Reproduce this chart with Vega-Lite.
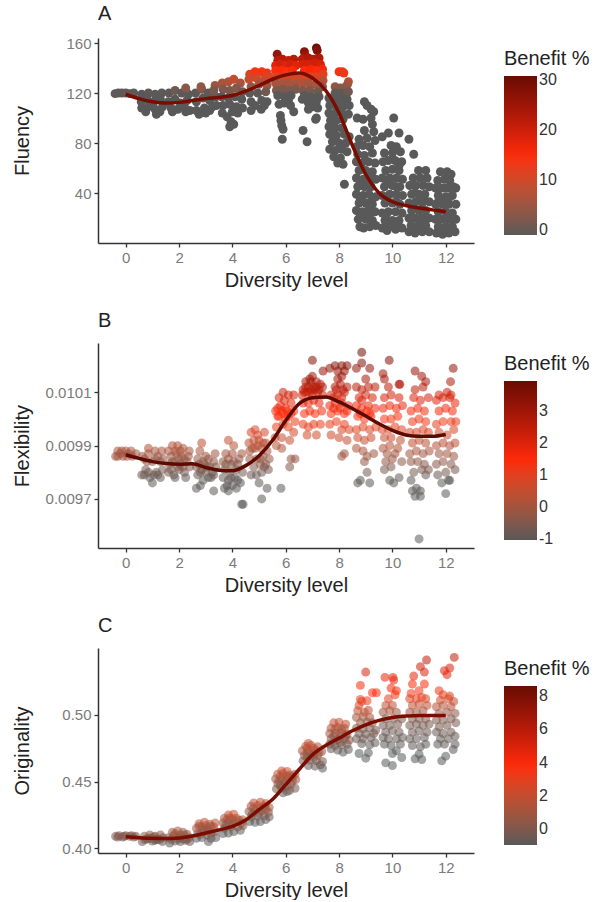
{"$schema":"https://vega.github.io/schema/vega-lite/v6.json","padding":{"left":12,"top":4,"right":0,"bottom":0},"background":"white","spacing":21,"datasets":{
"a":[{"x":-0.4,"y":119.5,"b":-0.4},{"x":-0.28,"y":120,"b":-0.4},{"x":-0.15,"y":120,"b":-0.4},{"x":0,"y":120,"b":-0.4},{"x":0.15,"y":119.5,"b":-0.4},{"x":0.3,"y":120,"b":-0.4},
{"x":0.6,"y":119,"b":-0.9},{"x":0.85,"y":120,"b":-0.5},{"x":1.1,"y":119,"b":-0.9},{"x":1.35,"y":120,"b":-0.5},{"x":0.58,"y":113,"b":-0.9},{"x":0.8,"y":115,"b":-0.9},{"x":1.05,"y":113,"b":-0.9},{"x":1.3,"y":115,"b":-0.9},{"x":0.6,"y":108,"b":-0.9},{"x":0.85,"y":109,"b":-0.9},{"x":1.1,"y":107,"b":-0.9},{"x":1.38,"y":109,"b":-0.9},{"x":0.75,"y":105,"b":-0.9},{"x":1.15,"y":103,"b":-0.9},{"x":1.28,"y":105,"b":-0.9},
{"x":1.62,"y":120,"b":-0.5},{"x":1.85,"y":122,"b":1},{"x":2.1,"y":120,"b":-0.5},{"x":2.35,"y":119,"b":-0.9},{"x":1.6,"y":113,"b":-0.9},{"x":1.85,"y":115,"b":-0.9},{"x":2.05,"y":112,"b":-0.9},{"x":2.3,"y":114,"b":-0.9},{"x":1.7,"y":108,"b":-0.9},{"x":1.95,"y":107,"b":-0.9},{"x":2.2,"y":109,"b":-0.9},{"x":2.4,"y":106,"b":-0.9},{"x":1.75,"y":105,"b":-0.9},{"x":2.25,"y":105,"b":-0.9},{"x":2.25,"y":124,"b":3},
{"x":2.62,"y":120,"b":-0.5},{"x":2.85,"y":123,"b":2},{"x":2.82,"y":125,"b":4},{"x":3.1,"y":120,"b":-0.5},{"x":3.35,"y":126,"b":5},{"x":2.65,"y":113,"b":-0.9},{"x":2.9,"y":116,"b":-0.9},{"x":3.15,"y":114,"b":-0.9},{"x":3.38,"y":117,"b":-0.9},{"x":2.65,"y":106,"b":-0.9},{"x":2.75,"y":103,"b":-0.9},{"x":2.95,"y":108,"b":-0.9},{"x":3.0,"y":104,"b":-0.9},{"x":3.25,"y":109,"b":-0.9},{"x":3.15,"y":106,"b":-0.9},{"x":3.4,"y":110,"b":-0.9},{"x":3.3,"y":122,"b":1.5},
{"x":3.62,"y":128,"b":6},{"x":3.85,"y":129,"b":7},{"x":4.05,"y":131,"b":9},{"x":4.3,"y":128,"b":6},{"x":3.65,"y":123,"b":2},{"x":3.9,"y":122,"b":2},{"x":4.15,"y":124,"b":3},{"x":4.38,"y":121,"b":1},{"x":3.6,"y":117,"b":-0.9},{"x":3.85,"y":116,"b":-0.9},{"x":4.1,"y":117,"b":-0.9},{"x":4.35,"y":115,"b":-0.9},{"x":3.65,"y":110,"b":-0.9},{"x":3.9,"y":111,"b":-0.9},{"x":4.15,"y":109,"b":-0.9},{"x":4.38,"y":108,"b":-0.9},{"x":3.62,"y":104,"b":-0.9},{"x":3.8,"y":101,"b":-0.9},{"x":4.0,"y":105,"b":-0.9},{"x":4.2,"y":104,"b":-0.9},{"x":3.95,"y":97,"b":-0.9},{"x":4.05,"y":95,"b":-0.9},{"x":3.9,"y":93,"b":-0.9},
{"x":4.65,"y":135,"b":12},{"x":4.85,"y":137,"b":14},{"x":5.1,"y":137,"b":14},{"x":5.3,"y":136,"b":13},{"x":4.62,"y":131,"b":9},{"x":4.9,"y":132,"b":10},{"x":5.2,"y":131,"b":9},{"x":5.38,"y":133,"b":11},{"x":4.7,"y":125,"b":4},{"x":5.0,"y":127,"b":6},{"x":5.3,"y":126,"b":5},{"x":4.65,"y":120,"b":-0.5},{"x":4.95,"y":120,"b":-0.5},{"x":5.25,"y":121,"b":1},{"x":4.7,"y":113,"b":-0.9},{"x":4.85,"y":110,"b":-0.9},{"x":5.1,"y":114,"b":-0.9},{"x":5.3,"y":113,"b":-0.9},{"x":4.7,"y":106,"b":-0.9},{"x":5.08,"y":107,"b":-0.9},{"x":5.2,"y":110,"b":-0.9},
{"x":5.68,"y":151,"b":26},{"x":5.7,"y":146,"b":22},{"x":5.88,"y":147,"b":22},{"x":6.1,"y":146,"b":21},{"x":6.3,"y":147,"b":22},{"x":5.62,"y":142,"b":18},{"x":5.8,"y":143,"b":19},{"x":6.0,"y":142,"b":18},{"x":6.2,"y":143,"b":19},{"x":6.38,"y":142,"b":18},{"x":5.62,"y":138,"b":15},{"x":5.85,"y":138,"b":15},{"x":6.05,"y":137,"b":14},{"x":6.25,"y":138,"b":15},{"x":5.65,"y":133,"b":11},{"x":5.9,"y":132,"b":10},{"x":6.15,"y":133,"b":11},{"x":6.38,"y":132,"b":10},{"x":5.62,"y":128,"b":6},{"x":5.85,"y":127,"b":6},{"x":6.1,"y":128,"b":6},{"x":6.35,"y":127,"b":6},{"x":5.65,"y":122,"b":2},{"x":5.9,"y":123,"b":2},{"x":6.15,"y":122,"b":2},{"x":6.38,"y":123,"b":2},{"x":5.7,"y":118,"b":-0.9},{"x":5.95,"y":117,"b":-0.9},{"x":6.2,"y":118,"b":-0.9},{"x":5.95,"y":112,"b":-0.9},{"x":6.1,"y":114,"b":-0.9},{"x":6.18,"y":110,"b":-0.9},{"x":6.3,"y":105,"b":-0.9},{"x":5.75,"y":111,"b":-0.9},{"x":5.8,"y":102,"b":-0.9},{"x":5.82,"y":98,"b":-0.9},{"x":5.85,"y":94,"b":-0.9},{"x":5.9,"y":91,"b":-0.9},{"x":5.87,"y":83,"b":-0.9},
{"x":7.15,"y":156,"b":30},{"x":7.18,"y":154,"b":28},{"x":6.7,"y":153,"b":27},{"x":6.72,"y":150,"b":25},{"x":6.62,"y":147,"b":22},{"x":6.85,"y":148,"b":23},{"x":7.05,"y":147,"b":22},{"x":7.25,"y":148,"b":23},{"x":6.65,"y":143,"b":19},{"x":6.85,"y":143,"b":19},{"x":7.1,"y":144,"b":20},{"x":7.3,"y":143,"b":19},{"x":7.38,"y":139,"b":16},{"x":6.7,"y":138,"b":15},{"x":6.95,"y":139,"b":16},{"x":7.15,"y":138,"b":15},{"x":7.4,"y":135,"b":12},{"x":6.65,"y":133,"b":11},{"x":6.9,"y":133,"b":11},{"x":7.15,"y":133,"b":11},{"x":7.4,"y":130,"b":8},{"x":6.62,"y":128,"b":7},{"x":6.85,"y":128,"b":6},{"x":7.1,"y":127,"b":6},{"x":7.38,"y":125,"b":4},{"x":6.65,"y":122,"b":2},{"x":6.9,"y":122,"b":2},{"x":7.2,"y":121,"b":1},{"x":6.7,"y":118,"b":-0.9},{"x":6.95,"y":117,"b":-0.9},{"x":7.25,"y":117,"b":-0.9},{"x":6.62,"y":115,"b":-0.9},{"x":6.85,"y":112,"b":-0.9},{"x":7.15,"y":113,"b":-0.9},{"x":7.0,"y":109,"b":-0.9},{"x":7.2,"y":108,"b":-0.9},{"x":6.85,"y":107,"b":-0.9},{"x":7.15,"y":100,"b":-0.9},{"x":7.12,"y":99,"b":-0.9},{"x":6.65,"y":90,"b":-0.9},{"x":6.8,"y":81,"b":-0.9},
{"x":8.0,"y":137,"b":14},{"x":8.12,"y":137,"b":14},{"x":8.18,"y":136,"b":13},{"x":8.35,"y":129,"b":8},{"x":8.32,"y":127,"b":6},{"x":7.85,"y":125,"b":4},{"x":8.05,"y":124,"b":3},{"x":8.25,"y":125,"b":4},{"x":7.85,"y":120,"b":-0.5},{"x":8.1,"y":120,"b":-0.5},{"x":8.35,"y":121,"b":1},{"x":7.62,"y":116,"b":-0.9},{"x":7.85,"y":115,"b":-0.9},{"x":8.1,"y":115,"b":-0.9},{"x":8.3,"y":115,"b":-0.9},{"x":7.65,"y":110,"b":-0.9},{"x":7.9,"y":110,"b":-0.9},{"x":8.15,"y":109,"b":-0.9},{"x":8.38,"y":110,"b":-0.9},{"x":7.62,"y":104,"b":-0.9},{"x":7.85,"y":104,"b":-0.9},{"x":8.1,"y":104,"b":-0.9},{"x":8.35,"y":103,"b":-0.9},{"x":7.68,"y":98,"b":-0.9},{"x":7.9,"y":98,"b":-0.9},{"x":8.15,"y":99,"b":-0.9},{"x":7.62,"y":93,"b":-0.9},{"x":7.85,"y":92,"b":-0.9},{"x":8.1,"y":92,"b":-0.9},{"x":7.65,"y":87,"b":-0.9},{"x":7.9,"y":86,"b":-0.9},{"x":8.2,"y":87,"b":-0.9},{"x":8.38,"y":85,"b":-0.9},{"x":7.75,"y":81,"b":-0.9},{"x":8.0,"y":80,"b":-0.9},{"x":8.25,"y":80,"b":-0.9},{"x":7.65,"y":75,"b":-0.9},{"x":7.85,"y":74,"b":-0.9},{"x":8.1,"y":75,"b":-0.9},{"x":8.3,"y":73,"b":-0.9},{"x":7.8,"y":69,"b":-0.9},{"x":8.05,"y":68,"b":-0.9},{"x":7.95,"y":64,"b":-0.9},{"x":8.15,"y":63,"b":-0.9},{"x":8.2,"y":47,"b":-0.9},
{"x":8.95,"y":113,"b":-0.9},{"x":9.05,"y":110,"b":-0.9},{"x":9.3,"y":105,"b":-0.9},{"x":9.2,"y":107,"b":-0.9},{"x":8.68,"y":100,"b":-0.9},{"x":8.9,"y":99,"b":-0.9},{"x":9.2,"y":100,"b":-0.9},{"x":9.25,"y":95,"b":-0.9},{"x":8.95,"y":90,"b":-0.9},{"x":9.3,"y":89,"b":-0.9},{"x":8.75,"y":83,"b":-0.9},{"x":9.05,"y":84,"b":-0.9},{"x":9.35,"y":82,"b":-0.9},{"x":8.65,"y":77,"b":-0.9},{"x":8.9,"y":78,"b":-0.9},{"x":9.15,"y":77,"b":-0.9},{"x":8.7,"y":71,"b":-0.9},{"x":8.95,"y":70,"b":-0.9},{"x":9.25,"y":72,"b":-0.9},{"x":8.65,"y":65,"b":-0.9},{"x":8.85,"y":64,"b":-0.9},{"x":9.1,"y":65,"b":-0.9},{"x":9.35,"y":64,"b":-0.9},{"x":8.75,"y":58,"b":-0.9},{"x":9.0,"y":58,"b":-0.9},{"x":9.25,"y":57,"b":-0.9},{"x":8.65,"y":52,"b":-0.9},{"x":8.9,"y":51,"b":-0.9},{"x":9.15,"y":52,"b":-0.9},{"x":9.38,"y":51,"b":-0.9},{"x":8.7,"y":45,"b":-0.9},{"x":8.95,"y":45,"b":-0.9},{"x":9.2,"y":45,"b":-0.9},{"x":8.65,"y":39,"b":-0.9},{"x":8.9,"y":38,"b":-0.9},{"x":9.12,"y":39,"b":-0.9},{"x":9.38,"y":37,"b":-0.9},{"x":8.75,"y":32,"b":-0.9},{"x":9.0,"y":32,"b":-0.9},{"x":9.25,"y":31,"b":-0.9},{"x":8.65,"y":26,"b":-0.9},{"x":8.88,"y":25,"b":-0.9},{"x":9.1,"y":26,"b":-0.9},{"x":9.35,"y":25,"b":-0.9},{"x":8.72,"y":19,"b":-0.9},{"x":9.0,"y":19,"b":-0.9},{"x":9.25,"y":18,"b":-0.9},{"x":8.78,"y":13,"b":-0.9},{"x":8.92,"y":12,"b":-0.9},{"x":9.15,"y":13,"b":-0.9},{"x":9.38,"y":14,"b":-0.9},
{"x":10.05,"y":100,"b":-0.9},{"x":10.25,"y":88,"b":-0.9},{"x":9.85,"y":88,"b":-0.9},{"x":9.62,"y":85,"b":-0.9},{"x":10.62,"y":83,"b":-0.9},{"x":10.8,"y":71,"b":-0.9},{"x":9.95,"y":78,"b":-0.9},{"x":10.15,"y":77,"b":-0.9},{"x":10.3,"y":73,"b":-0.9},{"x":9.7,"y":72,"b":-0.9},{"x":10.0,"y":72,"b":-0.9},{"x":9.65,"y":65,"b":-0.9},{"x":9.85,"y":66,"b":-0.9},{"x":10.1,"y":66,"b":-0.9},{"x":10.35,"y":65,"b":-0.9},{"x":9.75,"y":58,"b":-0.9},{"x":10.0,"y":59,"b":-0.9},{"x":10.25,"y":58,"b":-0.9},{"x":9.62,"y":52,"b":-0.9},{"x":9.9,"y":52,"b":-0.9},{"x":10.15,"y":52,"b":-0.9},{"x":10.38,"y":51,"b":-0.9},{"x":10.0,"y":46,"b":-0.9},{"x":10.28,"y":45,"b":-0.9},{"x":9.7,"y":45,"b":-0.9},{"x":9.62,"y":38,"b":-0.9},{"x":9.9,"y":39,"b":-0.9},{"x":10.15,"y":39,"b":-0.9},{"x":10.38,"y":38,"b":-0.9},{"x":9.72,"y":32,"b":-0.9},{"x":10.0,"y":32,"b":-0.9},{"x":10.28,"y":31,"b":-0.9},{"x":9.62,"y":24,"b":-0.9},{"x":9.85,"y":25,"b":-0.9},{"x":10.12,"y":25,"b":-0.9},{"x":10.36,"y":24,"b":-0.9},{"x":9.72,"y":18,"b":-0.9},{"x":10.0,"y":18,"b":-0.9},{"x":10.25,"y":18,"b":-0.9},{"x":9.62,"y":12,"b":-0.9},{"x":9.88,"y":13,"b":-0.9},{"x":10.12,"y":11,"b":-0.9},{"x":10.36,"y":12,"b":-0.9},
{"x":10.98,"y":58,"b":-0.9},{"x":11.25,"y":58,"b":-0.9},{"x":10.78,"y":52,"b":-0.9},{"x":11.05,"y":52,"b":-0.9},{"x":11.3,"y":52,"b":-0.9},{"x":10.65,"y":46,"b":-0.9},{"x":10.88,"y":46,"b":-0.9},{"x":11.15,"y":46,"b":-0.9},{"x":11.38,"y":45,"b":-0.9},{"x":10.72,"y":39,"b":-0.9},{"x":11.0,"y":39,"b":-0.9},{"x":11.22,"y":39,"b":-0.9},{"x":10.62,"y":32,"b":-0.9},{"x":10.88,"y":33,"b":-0.9},{"x":11.12,"y":32,"b":-0.9},{"x":11.38,"y":33,"b":-0.9},{"x":10.72,"y":26,"b":-0.9},{"x":11.0,"y":26,"b":-0.9},{"x":11.25,"y":26,"b":-0.9},{"x":10.62,"y":20,"b":-0.9},{"x":10.85,"y":20,"b":-0.9},{"x":11.1,"y":20,"b":-0.9},{"x":11.38,"y":20,"b":-0.9},{"x":10.7,"y":14,"b":-0.9},{"x":10.98,"y":14,"b":-0.9},{"x":11.25,"y":14,"b":-0.9},{"x":10.62,"y":9,"b":-0.9},{"x":10.85,"y":8,"b":-0.9},{"x":11.12,"y":9,"b":-0.9},{"x":11.38,"y":9,"b":-0.9},
{"x":11.8,"y":57,"b":-0.9},{"x":12.05,"y":57,"b":-0.9},{"x":12.2,"y":55,"b":-0.9},{"x":11.7,"y":50,"b":-0.9},{"x":11.95,"y":51,"b":-0.9},{"x":12.15,"y":50,"b":-0.9},{"x":11.62,"y":44,"b":-0.9},{"x":11.85,"y":44,"b":-0.9},{"x":12.1,"y":44,"b":-0.9},{"x":12.38,"y":44,"b":-0.9},{"x":11.72,"y":38,"b":-0.9},{"x":12.0,"y":37,"b":-0.9},{"x":12.25,"y":38,"b":-0.9},{"x":11.62,"y":31,"b":-0.9},{"x":11.88,"y":31,"b":-0.9},{"x":12.12,"y":31,"b":-0.9},{"x":12.38,"y":31,"b":-0.9},{"x":11.72,"y":25,"b":-0.9},{"x":12.0,"y":25,"b":-0.9},{"x":12.25,"y":24,"b":-0.9},{"x":11.62,"y":19,"b":-0.9},{"x":11.85,"y":19,"b":-0.9},{"x":12.1,"y":19,"b":-0.9},{"x":12.38,"y":19,"b":-0.9},{"x":11.72,"y":13,"b":-0.9},{"x":12.0,"y":13,"b":-0.9},{"x":12.25,"y":13,"b":-0.9},{"x":11.65,"y":8,"b":-0.9},{"x":11.88,"y":7,"b":-0.9},{"x":12.12,"y":8,"b":-0.9},{"x":12.35,"y":9,"b":-0.9},
{"x":8.8,"y":22,"b":-0.9},{"x":9.12,"y":22,"b":-0.9},{"x":8.8,"y":35,"b":-0.9},{"x":9.25,"y":35,"b":-0.9},{"x":8.8,"y":48,"b":-0.9},{"x":9.05,"y":48,"b":-0.9},{"x":9.8,"y":48,"b":-0.9},{"x":10.15,"y":45,"b":-0.9},{"x":9.78,"y":35,"b":-0.9},{"x":10.15,"y":33,"b":-0.9},{"x":9.75,"y":22,"b":-0.9},{"x":10.12,"y":15,"b":-0.9},{"x":9.8,"y":10,"b":-0.9},{"x":10.25,"y":62,"b":-0.9},{"x":10.85,"y":40,"b":-0.9},{"x":11.15,"y":36,"b":-0.9},{"x":10.75,"y":30,"b":-0.9},{"x":11.0,"y":18,"b":-0.9},{"x":11.25,"y":20,"b":-0.9},{"x":10.8,"y":12,"b":-0.9},{"x":11.75,"y":35,"b":-0.9},{"x":12.12,"y":36,"b":-0.9},{"x":11.75,"y":19,"b":-0.9},{"x":12.22,"y":19,"b":-0.9},{"x":11.85,"y":10,"b":-0.9},{"x":12.28,"y":45,"b":-0.9},{"x":11.98,"y":44,"b":-0.9}],
"al":[{"x":0,"y":119},{"x":0.5,"y":115.5},{"x":1,"y":113},{"x":1.5,"y":112},{"x":2,"y":112.5},{"x":2.5,"y":114},{"x":3,"y":115.5},{"x":3.5,"y":116.5},{"x":4,"y":118},{"x":4.5,"y":121.5},{"x":5,"y":126},{"x":5.5,"y":131},{"x":6,"y":134.5},{"x":6.5,"y":136},{"x":7,"y":132},{"x":7.5,"y":122},{"x":8,"y":104},{"x":8.5,"y":78},{"x":9,"y":55},{"x":9.5,"y":40},{"x":10,"y":33},{"x":10.5,"y":30},{"x":11,"y":28},{"x":11.5,"y":26.5},{"x":12,"y":25}],
"b":[{"x":-0.38,"y":0.00986,"b":0},{"x":-0.3,"y":0.00988,"b":0.1},{"x":-0.2,"y":0.00987,"b":0},{"x":-0.1,"y":0.00986,"b":0},{"x":0,"y":0.00988,"b":0.1},{"x":0.1,"y":0.00987,"b":0},{"x":0.25,"y":0.00986,"b":0},{"x":0.38,"y":0.00987,"b":0},{"x":-0.3,"y":0.00986,"b":0},{"x":-0.15,"y":0.00988,"b":0.1},{"x":0.05,"y":0.00986,"b":0},{"x":0.2,"y":0.00988,"b":0.1},
{"x":0.6,"y":0.00979,"b":-0.8},{"x":0.75,"y":0.00981,"b":-0.6},{"x":0.9,"y":0.00978,"b":-0.9},{"x":1.0,"y":0.00976,"b":-1},{"x":1.15,"y":0.0098,"b":-0.7},{"x":1.3,"y":0.00978,"b":-0.9},{"x":1.38,"y":0.00981,"b":-0.6},{"x":0.7,"y":0.00985,"b":-0.2},{"x":0.85,"y":0.00987,"b":0},{"x":1.0,"y":0.00984,"b":-0.3},{"x":1.2,"y":0.00986,"b":-0.1},{"x":1.35,"y":0.00988,"b":0.1},{"x":0.85,"y":0.00989,"b":0.2},{"x":1.1,"y":0.00988,"b":0.1},{"x":1.4,"y":0.00985,"b":-0.2},{"x":0.62,"y":0.00986,"b":-0.1},{"x":0.7,"y":0.00979,"b":-0.8},{"x":0.85,"y":0.0098,"b":-0.7},{"x":1.05,"y":0.00979,"b":-0.8},{"x":1.2,"y":0.00979,"b":-0.8},{"x":0.8,"y":0.00984,"b":-0.3},{"x":1.1,"y":0.00985,"b":-0.2},{"x":1.3,"y":0.00984,"b":-0.3},
{"x":1.6,"y":0.0098,"b":-0.7},{"x":1.8,"y":0.00979,"b":-0.8},{"x":2.0,"y":0.00981,"b":-0.6},{"x":2.2,"y":0.0098,"b":-0.7},{"x":2.4,"y":0.00982,"b":-0.5},{"x":1.65,"y":0.00983,"b":-0.4},{"x":1.85,"y":0.00984,"b":-0.3},{"x":2.05,"y":0.00983,"b":-0.4},{"x":2.3,"y":0.00984,"b":-0.3},{"x":1.7,"y":0.00986,"b":-0.1},{"x":1.9,"y":0.00987,"b":0},{"x":2.1,"y":0.00986,"b":-0.1},{"x":2.35,"y":0.00986,"b":-0.1},{"x":1.6,"y":0.00988,"b":0.1},{"x":1.75,"y":0.0099,"b":0.3},{"x":1.95,"y":0.0099,"b":0.3},{"x":2.15,"y":0.00989,"b":0.2},{"x":2.38,"y":0.00988,"b":0.1},{"x":1.85,"y":0.00978,"b":-0.9},{"x":2.25,"y":0.00978,"b":-0.9},{"x":1.7,"y":0.00981,"b":-0.6},{"x":1.95,"y":0.00982,"b":-0.5},{"x":2.15,"y":0.00982,"b":-0.5},{"x":1.75,"y":0.00984,"b":-0.3},{"x":2.0,"y":0.00985,"b":-0.2},{"x":2.2,"y":0.00985,"b":-0.2},{"x":1.85,"y":0.00988,"b":0.1},{"x":2.05,"y":0.00988,"b":0.1},
{"x":2.65,"y":0.00974,"b":-1},{"x":2.8,"y":0.00975,"b":-1},{"x":3.3,"y":0.00973,"b":-1},{"x":2.7,"y":0.00979,"b":-0.8},{"x":2.9,"y":0.00977,"b":-1},{"x":3.1,"y":0.00978,"b":-0.9},{"x":3.3,"y":0.00979,"b":-0.8},{"x":2.65,"y":0.00982,"b":-0.5},{"x":2.85,"y":0.00981,"b":-0.6},{"x":3.05,"y":0.00982,"b":-0.5},{"x":3.25,"y":0.0098,"b":-0.7},{"x":3.38,"y":0.00982,"b":-0.5},{"x":2.7,"y":0.00985,"b":-0.2},{"x":2.9,"y":0.00984,"b":-0.3},{"x":3.1,"y":0.00985,"b":-0.2},{"x":3.3,"y":0.00984,"b":-0.3},{"x":2.78,"y":0.00988,"b":0.1},{"x":3.0,"y":0.00986,"b":-0.1},{"x":2.85,"y":0.00991,"b":0.4},{"x":3.35,"y":0.00987,"b":0},{"x":2.75,"y":0.00983,"b":-0.4},{"x":2.95,"y":0.00983,"b":-0.4},{"x":3.15,"y":0.00982,"b":-0.5},{"x":2.8,"y":0.0098,"b":-0.7},{"x":3.0,"y":0.0098,"b":-0.7},{"x":3.2,"y":0.00978,"b":-0.9},
{"x":3.7,"y":0.00974,"b":-1},{"x":3.85,"y":0.00973,"b":-1},{"x":4.0,"y":0.00975,"b":-1},{"x":4.15,"y":0.00974,"b":-1},{"x":4.4,"y":0.00968,"b":-1},{"x":4.35,"y":0.00968,"b":-1},{"x":3.65,"y":0.00978,"b":-0.9},{"x":3.85,"y":0.00977,"b":-1},{"x":4.1,"y":0.00978,"b":-0.9},{"x":4.3,"y":0.00976,"b":-1},{"x":3.7,"y":0.00981,"b":-0.6},{"x":3.9,"y":0.0098,"b":-0.7},{"x":4.15,"y":0.00981,"b":-0.6},{"x":4.38,"y":0.0098,"b":-0.7},{"x":3.65,"y":0.00984,"b":-0.3},{"x":3.85,"y":0.00985,"b":-0.2},{"x":4.05,"y":0.00984,"b":-0.3},{"x":4.25,"y":0.00985,"b":-0.2},{"x":3.75,"y":0.00987,"b":0},{"x":4.0,"y":0.00987,"b":0},{"x":4.35,"y":0.00987,"b":0},{"x":3.85,"y":0.00992,"b":0.5},{"x":4.05,"y":0.0099,"b":0.3},{"x":3.75,"y":0.00983,"b":-0.4},{"x":3.95,"y":0.00983,"b":-0.4},{"x":4.2,"y":0.00983,"b":-0.4},{"x":3.8,"y":0.00975,"b":-1},{"x":3.95,"y":0.00978,"b":-0.9},{"x":4.2,"y":0.00977,"b":-1},
{"x":5.1,"y":0.0097,"b":-1},{"x":5.3,"y":0.00974,"b":-1},{"x":5.0,"y":0.00976,"b":-1},{"x":4.7,"y":0.00979,"b":-0.8},{"x":4.9,"y":0.00979,"b":-0.8},{"x":5.1,"y":0.0098,"b":-0.7},{"x":5.35,"y":0.00981,"b":-0.6},{"x":4.8,"y":0.00982,"b":-0.5},{"x":5.05,"y":0.00983,"b":-0.4},{"x":5.25,"y":0.00983,"b":-0.4},{"x":4.65,"y":0.00985,"b":-0.2},{"x":4.9,"y":0.00985,"b":-0.2},{"x":5.15,"y":0.00986,"b":-0.1},{"x":5.38,"y":0.00985,"b":-0.2},{"x":4.65,"y":0.00988,"b":0.1},{"x":4.85,"y":0.00989,"b":0.2},{"x":5.1,"y":0.00989,"b":0.2},{"x":5.3,"y":0.00988,"b":0.1},{"x":4.62,"y":0.00991,"b":0.4},{"x":4.8,"y":0.00992,"b":0.5},{"x":5.0,"y":0.00992,"b":0.5},{"x":5.25,"y":0.00991,"b":0.4},{"x":4.7,"y":0.00995,"b":0.8},{"x":4.95,"y":0.00994,"b":0.7},{"x":4.85,"y":0.00996,"b":0.9},{"x":5.2,"y":0.00995,"b":0.8},{"x":4.75,"y":0.00989,"b":0.2},{"x":4.95,"y":0.0099,"b":0.3},{"x":5.15,"y":0.00991,"b":0.4},{"x":5.05,"y":0.00985,"b":-0.2},{"x":5.2,"y":0.00982,"b":-0.5},
{"x":5.82,"y":0.00974,"b":-1},{"x":6.15,"y":0.00982,"b":-0.5},{"x":6.2,"y":0.00985,"b":-0.2},{"x":6.35,"y":0.00985,"b":-0.2},{"x":5.65,"y":0.0099,"b":0.3},{"x":5.85,"y":0.00989,"b":0.2},{"x":5.6,"y":0.00993,"b":0.6},{"x":5.85,"y":0.00993,"b":0.6},{"x":6.15,"y":0.00992,"b":0.5},{"x":6.3,"y":0.00995,"b":0.8},{"x":5.65,"y":0.00997,"b":1},{"x":5.9,"y":0.00998,"b":1.1},{"x":6.1,"y":0.00997,"b":1},{"x":6.35,"y":0.00999,"b":1.2},{"x":5.7,"y":0.01001,"b":1.4},{"x":5.9,"y":0.01002,"b":1.5},{"x":6.1,"y":0.01001,"b":1.4},{"x":6.3,"y":0.01003,"b":1.6},{"x":5.62,"y":0.01003,"b":1.6},{"x":5.8,"y":0.01005,"b":1.8},{"x":6.0,"y":0.01004,"b":1.7},{"x":6.2,"y":0.01006,"b":1.9},{"x":5.95,"y":0.01007,"b":2},{"x":5.75,"y":0.01008,"b":2.1},{"x":6.1,"y":0.01009,"b":2.2},{"x":6.3,"y":0.01009,"b":2.2},{"x":5.9,"y":0.0101,"b":2.3},{"x":5.7,"y":0.01004,"b":1.7},{"x":5.85,"y":0.01003,"b":1.6},{"x":6.05,"y":0.01003,"b":1.6},{"x":5.75,"y":0.01001,"b":1.4},{"x":6.0,"y":0.01,"b":1.3},{"x":6.2,"y":0.01002,"b":1.5},
{"x":7.0,"y":0.01022,"b":3.6},{"x":6.8,"y":0.00994,"b":0.7},{"x":7.15,"y":0.00994,"b":0.7},{"x":6.65,"y":0.00998,"b":1.1},{"x":6.85,"y":0.00997,"b":1},{"x":7.05,"y":0.00998,"b":1.1},{"x":7.3,"y":0.00998,"b":1.1},{"x":6.7,"y":0.01002,"b":1.5},{"x":6.9,"y":0.01003,"b":1.6},{"x":7.1,"y":0.01002,"b":1.5},{"x":7.35,"y":0.01003,"b":1.6},{"x":6.65,"y":0.01006,"b":1.9},{"x":6.85,"y":0.01006,"b":1.9},{"x":7.05,"y":0.01007,"b":2},{"x":7.25,"y":0.01006,"b":1.9},{"x":6.62,"y":0.01009,"b":2.2},{"x":6.8,"y":0.0101,"b":2.3},{"x":7.0,"y":0.01009,"b":2.2},{"x":7.2,"y":0.0101,"b":2.3},{"x":7.38,"y":0.01009,"b":2.2},{"x":6.65,"y":0.01011,"b":2.5},{"x":6.85,"y":0.01012,"b":2.6},{"x":7.05,"y":0.01012,"b":2.6},{"x":7.25,"y":0.01011,"b":2.5},{"x":7.38,"y":0.01012,"b":2.6},{"x":6.75,"y":0.01014,"b":2.8},{"x":6.95,"y":0.01014,"b":2.8},{"x":7.15,"y":0.01014,"b":2.8},{"x":6.9,"y":0.01015,"b":2.9},{"x":7.0,"y":0.01016,"b":3},{"x":7.4,"y":0.01018,"b":3.2},{"x":6.7,"y":0.0101,"b":2.3},{"x":6.9,"y":0.0101,"b":2.3},{"x":7.1,"y":0.01011,"b":2.5},{"x":6.75,"y":0.01012,"b":2.6},{"x":6.95,"y":0.01011,"b":2.5},{"x":7.15,"y":0.01012,"b":2.6},{"x":7.3,"y":0.01013,"b":2.7},
{"x":8.2,"y":0.00987,"b":0},{"x":8.1,"y":0.00986,"b":-0.1},{"x":7.7,"y":0.00994,"b":0.7},{"x":8.0,"y":0.00993,"b":0.6},{"x":8.3,"y":0.00992,"b":0.5},{"x":8.1,"y":0.00996,"b":0.9},{"x":7.65,"y":0.00998,"b":1.1},{"x":7.9,"y":0.00999,"b":1.2},{"x":8.2,"y":0.00998,"b":1.1},{"x":8.38,"y":0.00996,"b":0.9},{"x":7.7,"y":0.01002,"b":1.5},{"x":7.95,"y":0.01003,"b":1.6},{"x":8.2,"y":0.01002,"b":1.5},{"x":7.65,"y":0.01005,"b":1.8},{"x":7.85,"y":0.01006,"b":1.9},{"x":8.1,"y":0.01006,"b":1.9},{"x":8.35,"y":0.01005,"b":1.8},{"x":7.7,"y":0.01009,"b":2.2},{"x":7.95,"y":0.01009,"b":2.2},{"x":8.2,"y":0.0101,"b":2.3},{"x":7.85,"y":0.01012,"b":2.6},{"x":8.05,"y":0.01013,"b":2.7},{"x":8.3,"y":0.01012,"b":2.6},{"x":7.95,"y":0.01015,"b":2.9},{"x":8.1,"y":0.01016,"b":3},{"x":7.95,"y":0.01018,"b":3.2},{"x":8.2,"y":0.01018,"b":3.2},{"x":7.65,"y":0.01019,"b":3.3},{"x":7.85,"y":0.0102,"b":3.4},{"x":8.3,"y":0.0102,"b":3.4},{"x":8.1,"y":0.0102,"b":3.4},{"x":7.8,"y":0.01004,"b":1.7},{"x":8.05,"y":0.01004,"b":1.7},{"x":8.3,"y":0.01003,"b":1.6},{"x":7.8,"y":0.01008,"b":2.1},{"x":8.1,"y":0.01008,"b":2.1},{"x":7.9,"y":0.01011,"b":2.5},{"x":8.15,"y":0.01011,"b":2.5},
{"x":8.7,"y":0.00976,"b":-1},{"x":8.8,"y":0.00977,"b":-1},{"x":9.15,"y":0.00976,"b":-1},{"x":9.05,"y":0.0098,"b":-0.7},{"x":8.95,"y":0.00984,"b":-0.3},{"x":9.05,"y":0.00986,"b":-0.1},{"x":8.65,"y":0.00989,"b":0.2},{"x":8.9,"y":0.00988,"b":0.1},{"x":9.3,"y":0.00987,"b":0},{"x":8.7,"y":0.00993,"b":0.6},{"x":8.95,"y":0.00992,"b":0.5},{"x":9.2,"y":0.00993,"b":0.6},{"x":8.65,"y":0.00996,"b":0.9},{"x":8.9,"y":0.00997,"b":1},{"x":9.15,"y":0.00996,"b":0.9},{"x":9.38,"y":0.00997,"b":1},{"x":8.7,"y":0.01001,"b":1.4},{"x":8.95,"y":0.01,"b":1.3},{"x":9.2,"y":0.01001,"b":1.4},{"x":8.65,"y":0.01005,"b":1.8},{"x":8.85,"y":0.01004,"b":1.7},{"x":9.1,"y":0.01005,"b":1.8},{"x":9.35,"y":0.01004,"b":1.7},{"x":8.75,"y":0.01008,"b":2.1},{"x":9.0,"y":0.01009,"b":2.2},{"x":9.25,"y":0.01008,"b":2.1},{"x":8.65,"y":0.01012,"b":2.6},{"x":8.85,"y":0.01011,"b":2.5},{"x":9.1,"y":0.01012,"b":2.6},{"x":9.35,"y":0.01012,"b":2.6},{"x":9.0,"y":0.01015,"b":2.9},{"x":8.65,"y":0.01019,"b":3.3},{"x":8.85,"y":0.01021,"b":3.5},{"x":9.15,"y":0.01019,"b":3.3},{"x":8.85,"y":0.01025,"b":3.9},{"x":8.8,"y":0.01002,"b":1.5},{"x":9.05,"y":0.01003,"b":1.6},{"x":8.85,"y":0.01007,"b":2},{"x":9.15,"y":0.01002,"b":1.5},
{"x":9.9,"y":0.00977,"b":-1},{"x":10.05,"y":0.00976,"b":-1},{"x":10.25,"y":0.00978,"b":-0.9},{"x":9.7,"y":0.00981,"b":-0.6},{"x":9.95,"y":0.00982,"b":-0.5},{"x":9.75,"y":0.00984,"b":-0.3},{"x":10.0,"y":0.00985,"b":-0.2},{"x":10.35,"y":0.00984,"b":-0.3},{"x":9.8,"y":0.00987,"b":0},{"x":10.1,"y":0.00987,"b":0},{"x":9.65,"y":0.00989,"b":0.2},{"x":9.9,"y":0.0099,"b":0.3},{"x":10.2,"y":0.00989,"b":0.2},{"x":9.7,"y":0.00993,"b":0.6},{"x":9.95,"y":0.00993,"b":0.6},{"x":10.3,"y":0.00992,"b":0.5},{"x":9.62,"y":0.00996,"b":0.9},{"x":9.85,"y":0.00996,"b":0.9},{"x":10.1,"y":0.00997,"b":1},{"x":10.35,"y":0.00996,"b":0.9},{"x":9.7,"y":0.01,"b":1.3},{"x":9.95,"y":0.01,"b":1.3},{"x":10.2,"y":0.01001,"b":1.4},{"x":9.65,"y":0.01004,"b":1.7},{"x":9.9,"y":0.01005,"b":1.8},{"x":10.15,"y":0.01004,"b":1.7},{"x":10.38,"y":0.01005,"b":1.8},{"x":9.7,"y":0.01008,"b":2.1},{"x":9.95,"y":0.01009,"b":2.2},{"x":10.25,"y":0.01008,"b":2.1},{"x":9.85,"y":0.01012,"b":2.6},{"x":10.25,"y":0.01013,"b":2.7},{"x":10.28,"y":0.01013,"b":2.7},{"x":9.65,"y":0.01017,"b":3.1},{"x":9.7,"y":0.01015,"b":2.9},{"x":9.88,"y":0.01022,"b":3.6},
{"x":11.0,"y":0.00955,"b":-1},{"x":10.85,"y":0.00971,"b":-1},{"x":11.05,"y":0.00971,"b":-1},{"x":10.75,"y":0.00973,"b":-1},{"x":10.9,"y":0.00974,"b":-1},{"x":11.05,"y":0.00973,"b":-1},{"x":10.7,"y":0.00977,"b":-1},{"x":11.25,"y":0.00979,"b":-0.8},{"x":10.8,"y":0.0098,"b":-0.7},{"x":11.1,"y":0.00981,"b":-0.6},{"x":11.35,"y":0.00981,"b":-0.6},{"x":10.7,"y":0.00984,"b":-0.3},{"x":10.95,"y":0.00984,"b":-0.3},{"x":11.2,"y":0.00983,"b":-0.4},{"x":10.65,"y":0.00987,"b":0},{"x":10.9,"y":0.00988,"b":0.1},{"x":11.15,"y":0.00987,"b":0},{"x":11.38,"y":0.00988,"b":0.1},{"x":10.75,"y":0.00991,"b":0.4},{"x":11.0,"y":0.00992,"b":0.5},{"x":11.25,"y":0.00991,"b":0.4},{"x":10.65,"y":0.00995,"b":0.8},{"x":10.9,"y":0.00995,"b":0.8},{"x":11.15,"y":0.00996,"b":0.9},{"x":11.35,"y":0.00995,"b":0.8},{"x":10.75,"y":0.00999,"b":1.2},{"x":11.0,"y":0.01,"b":1.3},{"x":11.25,"y":0.00999,"b":1.2},{"x":10.7,"y":0.01003,"b":1.6},{"x":10.95,"y":0.01004,"b":1.7},{"x":11.2,"y":0.01003,"b":1.6},{"x":10.8,"y":0.01008,"b":2.1},{"x":11.05,"y":0.01007,"b":2},{"x":11.35,"y":0.01008,"b":2.1},{"x":10.85,"y":0.01011,"b":2.5},{"x":11.15,"y":0.01012,"b":2.6},{"x":11.25,"y":0.01014,"b":2.8},{"x":11.1,"y":0.01016,"b":3},{"x":10.85,"y":0.01018,"b":3.2},
{"x":12.0,"y":0.00972,"b":-1},{"x":11.85,"y":0.00976,"b":-1},{"x":12.1,"y":0.00977,"b":-1},{"x":12.15,"y":0.00977,"b":-1},{"x":11.7,"y":0.00979,"b":-0.8},{"x":12.0,"y":0.0098,"b":-0.7},{"x":12.35,"y":0.00981,"b":-0.6},{"x":11.65,"y":0.00983,"b":-0.4},{"x":11.9,"y":0.00984,"b":-0.3},{"x":12.2,"y":0.00983,"b":-0.4},{"x":12.3,"y":0.00986,"b":-0.1},{"x":11.75,"y":0.00987,"b":0},{"x":12.05,"y":0.00987,"b":0},{"x":11.65,"y":0.0099,"b":0.3},{"x":11.9,"y":0.00991,"b":0.4},{"x":12.15,"y":0.0099,"b":0.3},{"x":12.35,"y":0.00991,"b":0.4},{"x":11.75,"y":0.00995,"b":0.8},{"x":12.05,"y":0.00994,"b":0.7},{"x":12.3,"y":0.00996,"b":0.9},{"x":11.65,"y":0.00998,"b":1.1},{"x":11.9,"y":0.00999,"b":1.2},{"x":12.2,"y":0.00999,"b":1.2},{"x":12.38,"y":0.00999,"b":1.2},{"x":11.75,"y":0.01003,"b":1.6},{"x":12.0,"y":0.01004,"b":1.7},{"x":12.25,"y":0.01003,"b":1.6},{"x":11.65,"y":0.01007,"b":2},{"x":11.9,"y":0.01008,"b":2.1},{"x":12.15,"y":0.01008,"b":2.1},{"x":12.35,"y":0.01006,"b":1.9},{"x":11.75,"y":0.01009,"b":2.2},{"x":12.05,"y":0.0101,"b":2.3},{"x":12.2,"y":0.01009,"b":2.2},{"x":12.18,"y":0.01014,"b":2.8},{"x":12.28,"y":0.01019,"b":3.3}],
"bl":[{"x":0,"y":0.009866},{"x":0.5,"y":0.009852},{"x":1,"y":0.00984},{"x":1.5,"y":0.009833},{"x":2,"y":0.00983},{"x":2.5,"y":0.009832},{"x":3,"y":0.009818},{"x":3.5,"y":0.009808},{"x":4,"y":0.009806},{"x":4.5,"y":0.009825},{"x":5,"y":0.009862},{"x":5.5,"y":0.009919},{"x":6,"y":0.009994},{"x":6.5,"y":0.010057},{"x":7,"y":0.01008},{"x":7.5,"y":0.010082},{"x":8,"y":0.010064},{"x":8.5,"y":0.010039},{"x":9,"y":0.010011},{"x":9.5,"y":0.009982},{"x":10,"y":0.009957},{"x":10.5,"y":0.00994},{"x":11,"y":0.009935},{"x":11.5,"y":0.009935},{"x":12,"y":0.009942}],
"c":[{"x":-0.38,"y":0.409,"b":0.1},{"x":-0.25,"y":0.4095,"b":0.1},{"x":-0.12,"y":0.4085,"b":0},{"x":0,"y":0.4095,"b":0.1},{"x":0.15,"y":0.409,"b":0},{"x":0.3,"y":0.4085,"b":0},{"x":-0.3,"y":0.4085,"b":0},{"x":-0.05,"y":0.409,"b":0.1},{"x":0.22,"y":0.4095,"b":0.1},{"x":0.38,"y":0.409,"b":0},
{"x":0.62,"y":0.405,"b":-0.6},{"x":0.8,"y":0.407,"b":-0.2},{"x":1.0,"y":0.4055,"b":-0.5},{"x":1.2,"y":0.407,"b":-0.2},{"x":1.38,"y":0.405,"b":-0.6},{"x":0.7,"y":0.409,"b":0.3},{"x":0.9,"y":0.41,"b":0.6},{"x":1.1,"y":0.409,"b":0.3},{"x":1.3,"y":0.41,"b":0.6},{"x":0.85,"y":0.4075,"b":0},{"x":1.15,"y":0.4065,"b":-0.2},{"x":1.4,"y":0.408,"b":0.1},{"x":0.72,"y":0.4065,"b":-0.2},{"x":0.95,"y":0.4075,"b":0},{"x":1.05,"y":0.4085,"b":0.2},{"x":1.28,"y":0.4065,"b":-0.2},{"x":1.1,"y":0.406,"b":-0.4},
{"x":1.65,"y":0.404,"b":-0.9},{"x":1.85,"y":0.4055,"b":-0.5},{"x":2.05,"y":0.405,"b":-0.6},{"x":2.25,"y":0.406,"b":-0.4},{"x":2.4,"y":0.405,"b":-0.6},{"x":1.6,"y":0.408,"b":0.1},{"x":1.8,"y":0.4095,"b":0.4},{"x":2.0,"y":0.408,"b":0.1},{"x":2.2,"y":0.41,"b":0.6},{"x":2.38,"y":0.408,"b":0.1},{"x":1.75,"y":0.412,"b":1},{"x":1.95,"y":0.413,"b":1.3},{"x":2.15,"y":0.412,"b":1},{"x":2.3,"y":0.4105,"b":0.7},{"x":1.7,"y":0.4065,"b":-0.2},{"x":1.95,"y":0.407,"b":-0.1},{"x":2.15,"y":0.407,"b":-0.1},{"x":2.3,"y":0.407,"b":-0.1},{"x":1.85,"y":0.411,"b":0.8},{"x":2.05,"y":0.41,"b":0.6},
{"x":2.65,"y":0.4075,"b":-1},{"x":2.85,"y":0.408,"b":-0.8},{"x":3.1,"y":0.405,"b":-1},{"x":3.2,"y":0.4075,"b":-0.9},{"x":3.38,"y":0.408,"b":-0.8},{"x":2.7,"y":0.411,"b":-0.1},{"x":2.95,"y":0.4125,"b":0.2},{"x":3.2,"y":0.411,"b":-0.1},{"x":3.35,"y":0.4125,"b":0.2},{"x":2.65,"y":0.415,"b":0.9},{"x":2.85,"y":0.416,"b":1.1},{"x":3.05,"y":0.415,"b":0.9},{"x":3.3,"y":0.416,"b":1.1},{"x":2.75,"y":0.4185,"b":1.7},{"x":2.95,"y":0.4195,"b":1.9},{"x":3.15,"y":0.418,"b":1.6},{"x":3.35,"y":0.419,"b":1.8},{"x":2.8,"y":0.4105,"b":-0.2},{"x":3.05,"y":0.41,"b":-0.3},{"x":2.75,"y":0.4165,"b":1.2},{"x":3.0,"y":0.417,"b":1.3},{"x":3.2,"y":0.4165,"b":1.2},{"x":2.9,"y":0.414,"b":0.6},{"x":3.1,"y":0.4135,"b":0.5},
{"x":3.65,"y":0.411,"b":-1},{"x":3.85,"y":0.4115,"b":-1},{"x":4.05,"y":0.4125,"b":-0.9},{"x":4.3,"y":0.4135,"b":-0.7},{"x":3.7,"y":0.415,"b":-0.4},{"x":3.95,"y":0.416,"b":-0.1},{"x":4.2,"y":0.416,"b":-0.1},{"x":4.4,"y":0.417,"b":0.1},{"x":3.65,"y":0.419,"b":0.6},{"x":3.85,"y":0.42,"b":0.8},{"x":4.1,"y":0.42,"b":0.8},{"x":4.35,"y":0.419,"b":0.6},{"x":3.7,"y":0.4225,"b":1.4},{"x":3.9,"y":0.423,"b":1.6},{"x":4.15,"y":0.4225,"b":1.4},{"x":4.38,"y":0.4215,"b":1.2},{"x":3.85,"y":0.425,"b":2},{"x":4.05,"y":0.4255,"b":2.2},{"x":3.8,"y":0.4215,"b":1.2},{"x":4.0,"y":0.422,"b":1.3},{"x":4.25,"y":0.421,"b":1.1},{"x":3.75,"y":0.4175,"b":0.2},{"x":4.0,"y":0.418,"b":0.4},
{"x":4.65,"y":0.42,"b":-1},{"x":4.85,"y":0.4195,"b":-1},{"x":5.05,"y":0.42,"b":-1},{"x":5.25,"y":0.4215,"b":-0.8},{"x":4.7,"y":0.4235,"b":-0.6},{"x":4.95,"y":0.424,"b":-0.3},{"x":5.2,"y":0.4245,"b":-0.2},{"x":5.38,"y":0.4235,"b":-0.5},{"x":4.62,"y":0.4275,"b":0.3},{"x":4.85,"y":0.428,"b":0.4},{"x":5.1,"y":0.428,"b":0.4},{"x":5.35,"y":0.427,"b":0.2},{"x":4.7,"y":0.4315,"b":1.2},{"x":4.95,"y":0.432,"b":1.4},{"x":5.2,"y":0.4315,"b":1.2},{"x":5.38,"y":0.4305,"b":1.1},{"x":4.8,"y":0.434,"b":1.9},{"x":5.05,"y":0.4345,"b":2},{"x":5.25,"y":0.4335,"b":1.8},{"x":4.8,"y":0.43,"b":1},{"x":5.05,"y":0.43,"b":1},{"x":5.25,"y":0.4295,"b":0.9},{"x":4.75,"y":0.426,"b":0},{"x":5.0,"y":0.426,"b":0},
{"x":5.9,"y":0.4415,"b":-0.8},{"x":6.05,"y":0.4425,"b":-0.6},{"x":5.65,"y":0.4445,"b":-0.2},{"x":5.85,"y":0.445,"b":-0.1},{"x":6.15,"y":0.4435,"b":-0.4},{"x":6.35,"y":0.445,"b":-0.1},{"x":5.7,"y":0.4485,"b":0.4},{"x":5.95,"y":0.449,"b":0.5},{"x":6.2,"y":0.448,"b":0.3},{"x":5.62,"y":0.452,"b":1},{"x":5.85,"y":0.452,"b":1},{"x":6.1,"y":0.4525,"b":1.1},{"x":6.38,"y":0.4515,"b":0.9},{"x":5.7,"y":0.4555,"b":1.7},{"x":5.9,"y":0.456,"b":1.8},{"x":6.15,"y":0.455,"b":1.6},{"x":6.35,"y":0.4555,"b":1.7},{"x":5.85,"y":0.458,"b":2.2},{"x":6.05,"y":0.4575,"b":2.1},{"x":5.75,"y":0.4505,"b":0.7},{"x":6.0,"y":0.4505,"b":0.7},{"x":6.25,"y":0.4505,"b":0.7},{"x":5.8,"y":0.454,"b":1.3},{"x":6.05,"y":0.454,"b":1.3},{"x":6.25,"y":0.4535,"b":1.2},{"x":5.8,"y":0.447,"b":0.1},{"x":6.05,"y":0.4465,"b":0},
{"x":7.38,"y":0.46,"b":-1},{"x":6.85,"y":0.462,"b":-0.8},{"x":7.1,"y":0.4615,"b":-0.8},{"x":7.3,"y":0.4625,"b":-0.6},{"x":6.65,"y":0.4655,"b":-0.2},{"x":6.9,"y":0.466,"b":-0.1},{"x":7.15,"y":0.4655,"b":-0.2},{"x":7.38,"y":0.465,"b":-0.3},{"x":6.7,"y":0.4695,"b":0.5},{"x":6.95,"y":0.4695,"b":0.5},{"x":7.2,"y":0.4695,"b":0.5},{"x":6.62,"y":0.473,"b":1.1},{"x":6.85,"y":0.473,"b":1.1},{"x":7.1,"y":0.4735,"b":1.2},{"x":7.35,"y":0.4725,"b":1},{"x":6.75,"y":0.4765,"b":1.8},{"x":6.95,"y":0.477,"b":1.9},{"x":7.2,"y":0.476,"b":1.7},{"x":6.85,"y":0.4785,"b":2.2},{"x":6.8,"y":0.471,"b":0.8},{"x":7.05,"y":0.471,"b":0.8},{"x":7.25,"y":0.4715,"b":0.9},{"x":6.8,"y":0.475,"b":1.5},{"x":7.05,"y":0.475,"b":1.5},{"x":6.8,"y":0.468,"b":0.2},{"x":7.05,"y":0.468,"b":0.2},
{"x":7.7,"y":0.4745,"b":-0.8},{"x":7.95,"y":0.4735,"b":-0.9},{"x":8.15,"y":0.472,"b":-1},{"x":8.35,"y":0.474,"b":-0.8},{"x":7.65,"y":0.478,"b":-0.3},{"x":7.85,"y":0.477,"b":-0.4},{"x":8.1,"y":0.4775,"b":-0.3},{"x":8.3,"y":0.478,"b":-0.3},{"x":7.7,"y":0.482,"b":0.2},{"x":7.95,"y":0.4815,"b":0.2},{"x":8.2,"y":0.482,"b":0.2},{"x":8.38,"y":0.481,"b":0.1},{"x":7.65,"y":0.486,"b":0.8},{"x":7.85,"y":0.486,"b":0.8},{"x":8.1,"y":0.4865,"b":0.9},{"x":8.3,"y":0.4855,"b":0.7},{"x":7.7,"y":0.49,"b":1.4},{"x":7.95,"y":0.4905,"b":1.4},{"x":8.2,"y":0.49,"b":1.4},{"x":7.8,"y":0.494,"b":2},{"x":8.0,"y":0.4945,"b":2},{"x":8.25,"y":0.493,"b":1.9},{"x":7.8,"y":0.484,"b":0.5},{"x":8.05,"y":0.484,"b":0.5},{"x":8.25,"y":0.484,"b":0.5},{"x":7.85,"y":0.489,"b":1.2},{"x":8.1,"y":0.489,"b":1.2},{"x":7.8,"y":0.4795,"b":-0.1},{"x":8.05,"y":0.4795,"b":-0.1},
{"x":9.0,"y":0.4675,"b":-1},{"x":8.75,"y":0.471,"b":-1},{"x":9.1,"y":0.4715,"b":-1},{"x":8.85,"y":0.4785,"b":-0.8},{"x":9.15,"y":0.4775,"b":-0.8},{"x":9.35,"y":0.479,"b":-0.7},{"x":8.65,"y":0.482,"b":-0.5},{"x":8.9,"y":0.482,"b":-0.5},{"x":9.2,"y":0.483,"b":-0.5},{"x":8.75,"y":0.486,"b":-0.3},{"x":9.0,"y":0.4855,"b":-0.3},{"x":9.3,"y":0.486,"b":-0.3},{"x":8.65,"y":0.49,"b":-0.1},{"x":8.9,"y":0.4895,"b":-0.1},{"x":9.15,"y":0.49,"b":-0.1},{"x":9.38,"y":0.4885,"b":-0.2},{"x":8.8,"y":0.494,"b":0.3},{"x":9.05,"y":0.4945,"b":0.4},{"x":9.25,"y":0.494,"b":0.3},{"x":8.65,"y":0.498,"b":1},{"x":8.9,"y":0.4985,"b":1},{"x":9.15,"y":0.498,"b":1},{"x":8.7,"y":0.503,"b":1.9},{"x":8.95,"y":0.502,"b":1.7},{"x":9.1,"y":0.5035,"b":2},{"x":8.75,"y":0.507,"b":2.5},{"x":8.85,"y":0.51,"b":3},{"x":9.05,"y":0.5105,"b":3.1},{"x":8.8,"y":0.5115,"b":3.2},{"x":9.4,"y":0.5165,"b":3.8},{"x":9.25,"y":0.5165,"b":3.8},{"x":8.8,"y":0.522,"b":4},{"x":9.0,"y":0.532,"b":5},
{"x":9.75,"y":0.464,"b":-1},{"x":10.0,"y":0.462,"b":-1},{"x":10.35,"y":0.468,"b":-1},{"x":10.0,"y":0.471,"b":-1},{"x":10.15,"y":0.473,"b":-1},{"x":9.7,"y":0.478,"b":-0.9},{"x":9.95,"y":0.477,"b":-0.9},{"x":10.3,"y":0.478,"b":-0.9},{"x":9.65,"y":0.483,"b":-0.7},{"x":9.85,"y":0.482,"b":-0.7},{"x":10.15,"y":0.482,"b":-0.7},{"x":10.38,"y":0.483,"b":-0.7},{"x":9.75,"y":0.487,"b":-0.5},{"x":10.0,"y":0.488,"b":-0.5},{"x":10.25,"y":0.487,"b":-0.5},{"x":9.65,"y":0.492,"b":-0.3},{"x":9.9,"y":0.492,"b":-0.3},{"x":10.2,"y":0.493,"b":-0.3},{"x":9.75,"y":0.497,"b":0},{"x":10.05,"y":0.497,"b":0},{"x":10.35,"y":0.497,"b":0},{"x":9.65,"y":0.502,"b":0.8},{"x":9.9,"y":0.503,"b":1},{"x":10.15,"y":0.502,"b":0.8},{"x":9.75,"y":0.507,"b":1.8},{"x":10.0,"y":0.507,"b":1.8},{"x":9.85,"y":0.512,"b":2.8},{"x":10.1,"y":0.515,"b":3.4},{"x":10.15,"y":0.518,"b":3.8},{"x":9.95,"y":0.52,"b":3.9},{"x":10.05,"y":0.526,"b":4.3},{"x":9.72,"y":0.528,"b":4.5},{"x":10.02,"y":0.528,"b":4.5},
{"x":10.85,"y":0.467,"b":-1},{"x":11.0,"y":0.4705,"b":-1},{"x":11.1,"y":0.4665,"b":-1},{"x":10.75,"y":0.477,"b":-0.9},{"x":11.05,"y":0.476,"b":-0.9},{"x":11.25,"y":0.478,"b":-0.9},{"x":10.65,"y":0.482,"b":-0.7},{"x":10.9,"y":0.482,"b":-0.7},{"x":11.2,"y":0.483,"b":-0.7},{"x":10.75,"y":0.487,"b":-0.5},{"x":11.0,"y":0.488,"b":-0.5},{"x":11.3,"y":0.487,"b":-0.5},{"x":10.65,"y":0.492,"b":-0.3},{"x":10.9,"y":0.493,"b":-0.3},{"x":11.15,"y":0.492,"b":-0.3},{"x":11.38,"y":0.493,"b":-0.3},{"x":10.75,"y":0.497,"b":0},{"x":11.0,"y":0.497,"b":0},{"x":11.25,"y":0.497,"b":0},{"x":10.65,"y":0.502,"b":0.8},{"x":10.9,"y":0.502,"b":0.8},{"x":11.15,"y":0.503,"b":1},{"x":10.75,"y":0.507,"b":1.8},{"x":11.0,"y":0.508,"b":2},{"x":11.3,"y":0.507,"b":1.8},{"x":10.65,"y":0.512,"b":2.8},{"x":10.9,"y":0.512,"b":2.8},{"x":11.1,"y":0.513,"b":3},{"x":11.25,"y":0.512,"b":2.8},{"x":10.7,"y":0.516,"b":3.4},{"x":11.0,"y":0.518,"b":3.6},{"x":10.75,"y":0.523,"b":4},{"x":11.2,"y":0.523,"b":4},{"x":10.8,"y":0.529,"b":4.6},{"x":11.2,"y":0.532,"b":5},{"x":11.05,"y":0.536,"b":5.3},{"x":11.28,"y":0.541,"b":5.8},
{"x":11.85,"y":0.4655,"b":-1},{"x":12.0,"y":0.469,"b":-1},{"x":12.28,"y":0.474,"b":-1},{"x":11.7,"y":0.478,"b":-0.9},{"x":11.95,"y":0.478,"b":-0.9},{"x":12.35,"y":0.478,"b":-0.9},{"x":11.8,"y":0.482,"b":-0.7},{"x":12.1,"y":0.482,"b":-0.7},{"x":12.35,"y":0.484,"b":-0.6},{"x":11.65,"y":0.487,"b":-0.5},{"x":11.9,"y":0.486,"b":-0.5},{"x":12.2,"y":0.487,"b":-0.5},{"x":11.75,"y":0.491,"b":-0.3},{"x":12.05,"y":0.492,"b":-0.3},{"x":12.38,"y":0.494,"b":-0.2},{"x":11.65,"y":0.496,"b":-0.1},{"x":11.9,"y":0.496,"b":-0.1},{"x":12.2,"y":0.497,"b":0},{"x":12.35,"y":0.501,"b":0.4},{"x":11.75,"y":0.501,"b":0.4},{"x":12.05,"y":0.502,"b":0.6},{"x":11.65,"y":0.506,"b":1.4},{"x":11.9,"y":0.507,"b":1.6},{"x":12.2,"y":0.506,"b":1.4},{"x":12.3,"y":0.51,"b":2},{"x":11.8,"y":0.511,"b":2.2},{"x":12.1,"y":0.512,"b":2.4},{"x":12.15,"y":0.514,"b":2.8},{"x":11.75,"y":0.518,"b":3.4},{"x":11.9,"y":0.515,"b":3},{"x":12.05,"y":0.53,"b":4.6},{"x":11.95,"y":0.533,"b":4.8},{"x":12.15,"y":0.535,"b":5},{"x":12.32,"y":0.543,"b":5.8}],
"cl":[{"x":0,"y":0.4087},{"x":0.5,"y":0.408},{"x":1,"y":0.4075},{"x":1.5,"y":0.4073},{"x":2,"y":0.4077},{"x":2.5,"y":0.4092},{"x":3,"y":0.4115},{"x":3.5,"y":0.4138},{"x":4,"y":0.4165},{"x":4.5,"y":0.4212},{"x":5,"y":0.429},{"x":5.5,"y":0.4365},{"x":6,"y":0.4477},{"x":6.5,"y":0.459},{"x":7,"y":0.47},{"x":7.5,"y":0.477},{"x":8,"y":0.4825},{"x":8.5,"y":0.488},{"x":9,"y":0.4925},{"x":9.5,"y":0.4958},{"x":10,"y":0.498},{"x":10.5,"y":0.499},{"x":11,"y":0.4995},{"x":11.5,"y":0.4995},{"x":12,"y":0.4995}]},
"config":{"font":"Liberation Sans","view":{"stroke":null},"title":{"anchor":"start","fontSize":20,"fontWeight":"normal","color":"#222","offset":12,"frame":"group"},"axis":{"grid":false,"domainColor":"#333","domainWidth":1.5,"tickColor":"#333","tickWidth":1.3,"tickSize":4,"labelColor":"#7a7a7a","labelFontSize":15,"labelPadding":3,"titleFontWeight":"normal","titleColor":"#222","labelFont":"Liberation Sans","titleFont":"Liberation Sans"},"axisX":{"titleFontSize":20,"titlePadding":5},"axisY":{"titleFontSize":20,"titleX":-66},"legend":{"orient":"none","gradientLength":159,"gradientThickness":33,"gradientStrokeWidth":0,"titleFontSize":20,"titleFontWeight":"normal","titleColor":"#222","labelFontSize":16,"labelColor":"#333","labelOffset":9,"titlePadding":7,"legendX":406,"legendY":11}},"resolve":{"scale":{"color":"independent"},"legend":{"color":"independent"}},"vconcat":[{"width":376,"height":205,"title":"A","layer":[{"data":{"name":"a"},"mark":{"type":"circle","size":80,"opacity":1},"encoding":{"x":{"field":"x","type":"quantitative","scale":{"domain":[-1.04,13.06],"nice":false,"zero":false},"axis":{"values":[0,2,4,6,8,10,12],"title":"Diversity level"}},"y":{"field":"y","type":"quantitative","scale":{"domain":[0,164],"nice":false,"zero":false},"axis":{"values":[40,80,120,160],"title":"Fluency"}},"color":{"field":"b","type":"quantitative","title":"Benefit %","scale":{"domain":[-0.9,14.9,30.7],"range":["#595959","#ff2a0a","#6a0c00"]},"legend":{"values":[0,10,20,30]}}}},{"data":{"name":"al"},"mark":{"type":"line","color":"#7a0c00","strokeWidth":3.5,"interpolate":"monotone"},"encoding":{"x":{"field":"x","type":"quantitative"},"y":{"field":"y","type":"quantitative"}}}]},{"width":376,"height":205,"title":"B","layer":[{"data":{"name":"b"},"mark":{"type":"circle","size":80,"fillOpacity":0.55},"encoding":{"x":{"field":"x","type":"quantitative","scale":{"domain":[-1.04,13.06],"nice":false,"zero":false},"axis":{"values":[0,2,4,6,8,10,12],"title":"Diversity level"}},"y":{"field":"y","type":"quantitative","scale":{"domain":[0.009516,0.010285],"nice":false,"zero":false},"axis":{"values":[0.0097,0.0099,0.0101],"format":".4f","title":"Flexibility"}},"color":{"field":"b","type":"quantitative","title":"Benefit %","scale":{"domain":[-1.02,1.47,3.95],"range":["#595959","#ff2a0a","#6a0c00"]},"legend":{"values":[-1,0,1,2,3],"labelExpr":"replace(datum.label,'−','-')"}}}},{"data":{"name":"bl"},"mark":{"type":"line","color":"#5e0a00","strokeWidth":3.5,"interpolate":"monotone"},"encoding":{"x":{"field":"x","type":"quantitative"},"y":{"field":"y","type":"quantitative"}}}]},{"width":376,"height":205,"title":"C","layer":[{"data":{"name":"c"},"mark":{"type":"circle","size":80,"fillOpacity":0.55},"encoding":{"x":{"field":"x","type":"quantitative","scale":{"domain":[-1.04,13.06],"nice":false,"zero":false},"axis":{"values":[0,2,4,6,8,10,12],"title":"Diversity level"}},"y":{"field":"y","type":"quantitative","scale":{"domain":[0.3965,0.55],"nice":false,"zero":false},"axis":{"values":[0.40,0.45,0.50],"format":".2f","title":"Originality"}},"color":{"field":"b","type":"quantitative","title":"Benefit %","scale":{"domain":[-0.96,3.82,8.6],"range":["#595959","#ff2a0a","#6a0c00"]},"legend":{"values":[0,2,4,6,8]}}}},{"data":{"name":"cl"},"mark":{"type":"line","color":"#7a0c00","strokeWidth":3.5,"interpolate":"monotone"},"encoding":{"x":{"field":"x","type":"quantitative"},"y":{"field":"y","type":"quantitative"}}}]}]}
